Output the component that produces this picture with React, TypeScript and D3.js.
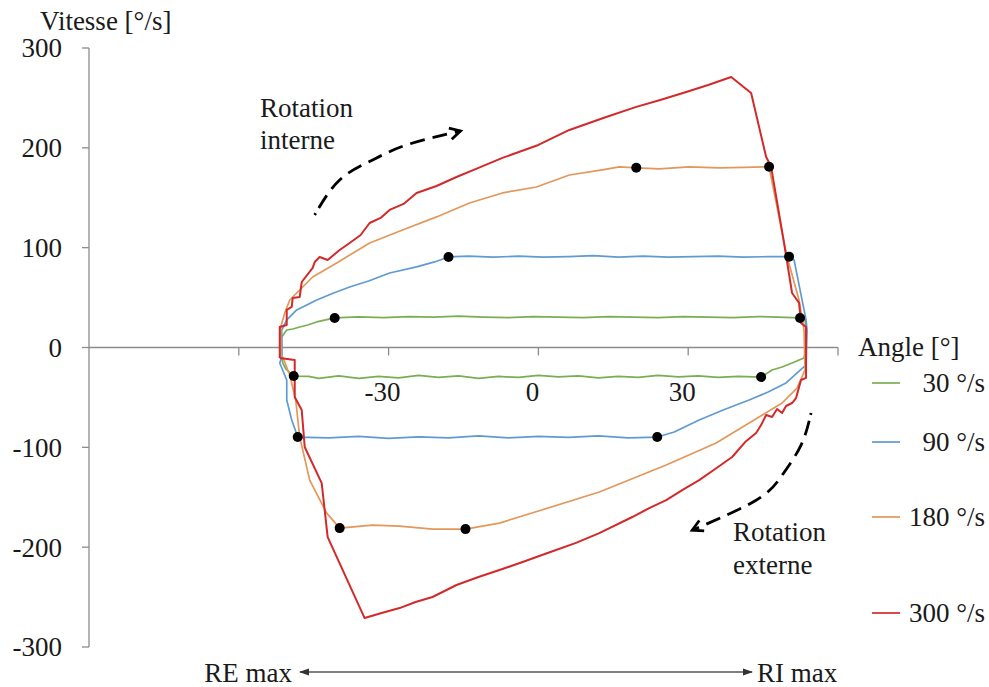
import React from "react";
import * as d3 from "d3";

const series30: [number, number][] = [
  [-51.4, -9.5], [-51.4, 10.5], [-50.4, 17.5], [-49.2, 18.5], [-47.8, 20.5], [-46.2, 22.5], [-44.4, 25.6],
  [-42.6, 27.6], [-40.8, 29.6], [-36, 30.6], [-31, 30], [-26, 31], [-21, 30.5], [-16, 31.5], [-11, 30.5],
  [-6, 30], [-1, 31], [4, 30.5], [9, 30], [14, 31], [19, 30.5], [24, 30], [29, 31], [34, 30.5], [39, 30],
  [44, 31], [48, 30.5], [52.4, 29.6], [53.4, 27.6], [53.6, 17.5], [53.4, -4.5], [53.2, -10.5], [52.2, -12.5],
  [50.8, -15.5], [48.8, -19.5], [46.8, -22.5], [44.6, -29.6], [40, -29], [36, -30], [32, -28.5], [28, -29.5],
  [24, -28], [20, -30], [16, -29], [12, -30.5], [8, -28.5], [4, -29.5], [0, -28], [-4, -30], [-8, -29],
  [-12, -31], [-16, -28.5], [-20, -30], [-24, -28], [-28, -30.5], [-32, -29], [-36, -31], [-40, -28.5],
  [-44, -31], [-46, -29], [-49, -28.6], [-50.6, -21.5], [-51.2, -15.5], [-51.4, -9.5],
];

const series90: [number, number][] = [
  [-51.4, -9.5], [-51.4, 17.5], [-50.4, 27.6], [-48.4, 37.6], [-46.4, 42.6], [-44.4, 47.6], [-41, 54.6],
  [-37.8, 60.6], [-34, 66.6], [-29.8, 74.6], [-24.4, 80.7], [-20.8, 85.7], [-18, 90.7], [-14, 91.5],
  [-9, 90.5], [-4, 91.5], [1, 90.5], [6, 91], [11, 92], [16, 90.5], [21, 91.5], [26, 90.5], [31, 91],
  [36, 91.5], [41, 90.5], [46, 91], [50.2, 91], [51.2, 87.7], [53.6, 27.6], [53.8, 17.5], [53.6, -17.5],
  [49.6, -35.5], [46, -44.6], [42.2, -52.6], [37, -62.6], [32.2, -72.6], [27.2, -84.7], [23.8, -89.7],
  [18, -90.5], [12, -88.5], [6, -90], [0, -89], [-6, -90.5], [-12, -88.5], [-18, -90.5], [-24, -89.5],
  [-30, -91], [-36, -89], [-42, -90.5], [-48.2, -89.7], [-49.4, -72.6], [-50.4, -52.6], [-50.4, -32.6],
  [-51.8, -15.5], [-51.4, -9.5],
];

const series180: [number, number][] = [
  [-51.6, -9.5], [-51.6, 20.5], [-50.8, 34.6], [-49.8, 47.6], [-47.2, 60.6], [-45.2, 70.6], [-40.4, 84.7],
  [-33.8, 104.7], [-27.2, 117.7], [-20.4, 130.8], [-13.8, 144.8], [-7.2, 154.8], [-0.4, 160.8], [6.2, 172.8],
  [12.8, 177.9], [16.2, 180.9], [19.6, 180], [24.2, 179], [30.2, 181], [36.2, 180], [41.2, 180.5],
  [46.2, 181], [49.6, 94.7], [52.2, 47.6], [53.2, 17.5], [53.4, -22.5], [51.8, -40.6], [48.8, -55.6],
  [42.2, -75.7], [35.6, -95.7], [25.6, -117.7], [12.2, -144.8], [0, -163.8], [-7.8, -175.9], [-14.6, -181.9],
  [-21.2, -181.9], [-27.8, -178.9], [-33.2, -177.9], [-39.8, -180.9], [-42.4, -165.9], [-45.8, -132.8],
  [-47.8, -89.7], [-48.6, -52.6], [-49.8, -27.6], [-51.2, -9.5], [-51.6, -9.5],
];

const series300: [number, number][] = [
  [-51.8, -10.5], [-51.8, 20.5], [-50.4, 22.5], [-50.4, 37.6], [-49.4, 40.6], [-49.2, 49.6], [-47.8, 50.6],
  [-47.4, 65.6], [-45.2, 79.7], [-44.8, 85.7], [-43.8, 90.7], [-42.2, 87.7], [-39.8, 97.7], [-37.8, 104.7],
  [-35.6, 112.7], [-33.8, 124.7], [-31.6, 129.8], [-29.8, 137.8], [-27, 143.8], [-24.4, 154.8], [-20.4, 161.8],
  [-16.4, 170.8], [-12, 179.9], [-7.2, 189.9], [0, 202.9], [6.2, 217.9], [13, 229.9], [19.6, 241],
  [24.4, 247.9], [29.6, 256], [34, 262.9], [38.6, 271], [42.6, 255], [45.6, 191], [46.6, 181], [49.2, 104.7],
  [50.8, 54.6], [52.2, 44.6], [52.6, 24.5], [53.6, 20.5], [53.6, -30.5], [52.6, -32.6], [51.6, -50.6],
  [50.8, -55.6], [49.6, -58.6], [48.8, -65.6], [47.8, -61.6], [46.8, -69.6], [45.6, -67.6], [44.6, -77.7],
  [43.6, -85.7], [41.4, -94.7], [38.8, -109.7], [35.4, -121.7], [32.2, -132.8], [28.8, -142.8], [25.6, -152.8],
  [22.2, -160.8], [18.8, -169.8], [12.2, -185.9], [7.4, -195.9], [2.4, -204.9], [-2.6, -213.9], [-7.8, -222.9],
  [-12, -229.9], [-16.4, -237.9], [-21.2, -249.9], [-24.6, -254.9], [-27.8, -261], [-31.4, -265.9],
  [-34.8, -271], [-42.2, -190], [-43.4, -135.8], [-46.8, -99.7], [-47.4, -62.6], [-48.8, -49.6],
  [-48.8, -12.5], [-51.8, -10.5],
];

// black markers: start / end of the constant-velocity part
const dots30: [number, number][] = [[-40.8, 29.6], [52.4, 29.6], [44.6, -29.6], [-49, -28.6]];
const dots90: [number, number][] = [[-18, 90.7], [50.2, 91], [23.8, -89.7], [-48.2, -89.7]];
const dots180: [number, number][] = [[19.6, 180], [46.2, 181], [-14.6, -181.9], [-39.8, -180.9]];

const legendLabels = ["30 °/s", "90 °/s", "180 °/s", "300 °/s"];
const colors = ["#7aae52", "#5f9bd2", "#e3975a", "#d22a2a"];

const yTicks = [-300, -200, -100, 0, 100, 200, 300];
const xTicks = [-60, -30, 0, 30, 60];
const xTickLabels = [-30, 0, 30];

// dashed guide arcs
const arcInterne: [number, number][] = [[-44.8, 132.8], [-39.8, 167.8], [-33.2, 187.9], [-26.4, 202.9], [-15.6, 216.9]];
const arcExterne: [number, number][] = [[54.6, -65.6], [52.6, -97.7], [48.8, -128], [43.6, -153], [30.8, -183]];

const W = 989;
const H = 687;
const font = "'Liberation Serif', 'Times New Roman', serif";

const App = () => {
  const x = d3.scaleLinear().domain([-90, 60]).range([89, 838]);
  const y = d3.scaleLinear().domain([-300, 300]).range([647, 48]);

  const line = d3
    .line<[number, number]>()
    .x((d) => x(d[0]))
    .y((d) => y(d[1]));

  const arc = d3
    .line<[number, number]>()
    .x((d) => x(d[0]))
    .y((d) => y(d[1]))
    .curve(d3.curveNatural);

  const allSeries = [series30, series90, series180, series300];
  const allDots = [dots30, dots90, dots180];
  const legendY = [383, 442, 517, 613];

  const arrowHead = (pts: [number, number][]) => {
    const a = pts[pts.length - 2];
    const b = pts[pts.length - 1];
    const ang = Math.atan2(y(b[1]) - y(a[1]), x(b[0]) - x(a[0]));
    const bx = x(b[0]);
    const by = y(b[1]);
    const l = 12;
    const p1 = [bx - l * Math.cos(ang - 0.5), by - l * Math.sin(ang - 0.5)];
    const p2 = [bx - l * Math.cos(ang + 0.5), by - l * Math.sin(ang + 0.5)];
    return `M${p1[0]},${p1[1]}L${bx},${by}L${p2[0]},${p2[1]}`;
  };

  return (
    <svg
      width={W}
      height={H}
      style={{ position: "absolute", left: 0, top: 0, background: "#fff" }}
      fontFamily={font}
    >
      <defs>
        <marker id="tri" viewBox="0 0 10 10" refX="9" refY="5" markerWidth="7" markerHeight="7" orient="auto-start-reverse">
          <path d="M0,1.5L10,5L0,8.5Z" fill="#333" />
        </marker>
      </defs>

      {/* y axis */}
      <line x1={x(-90)} x2={x(-90)} y1={y(300)} y2={y(-300)} stroke="#8c8c8c" strokeWidth={1.3} />
      {yTicks.map((t) => (
        <g key={t}>
          <line x1={x(-90) - 7} x2={x(-90)} y1={y(t)} y2={y(t)} stroke="#8c8c8c" strokeWidth={1.3} />
          <text x={62} y={y(t)} dy="0.35em" textAnchor="end" fontSize={27} fill="#1a1a1a">
            {t}
          </text>
        </g>
      ))}
      <text x={40} y={30} fontSize={27} fill="#1a1a1a">
        Vitesse [°/s]
      </text>

      {/* x axis */}
      <line x1={x(-90)} x2={x(60)} y1={y(0)} y2={y(0)} stroke="#8c8c8c" strokeWidth={1.3} />
      {xTicks.map((t) => (
        <line key={t} x1={x(t)} x2={x(t)} y1={y(0)} y2={y(0) + 8} stroke="#8c8c8c" strokeWidth={1.3} />
      ))}
      {xTickLabels.map((t) => (
        <text key={t} x={x(t) - 6} y={392} dy="0.35em" textAnchor="middle" fontSize={27} fill="#1a1a1a">
          {t}
        </text>
      ))}
      <text x={858} y={347} dy="0.35em" fontSize={27} fill="#1a1a1a">
        Angle [°]
      </text>

      {/* loops */}
      {allSeries.map((s, i) => (
        <path key={i} d={line(s) ?? ""} fill="none" stroke={colors[i]} strokeWidth={i === 3 ? 2 : 1.7} strokeLinejoin="round" />
      ))}
      {allDots.map((ds, i) =>
        ds.map((d, j) => <circle key={`${i}-${j}`} cx={x(d[0])} cy={y(d[1])} r={5} fill="#000" />)
      )}

      {/* legend */}
      {legendLabels.map((l, i) => (
        <g key={l}>
          <line x1={872} x2={900} y1={legendY[i]} y2={legendY[i]} stroke={colors[i]} strokeWidth={1.7} />
          <text x={985} y={legendY[i]} dy="0.35em" textAnchor="end" fontSize={27} fill="#1a1a1a">
            {l}
          </text>
        </g>
      ))}

      {/* rotation annotations */}
      <path d={arc(arcInterne) ?? ""} fill="none" stroke="#000" strokeWidth={2.8} strokeDasharray="2 6 15 8 15 8 15 8 15 8 15 8 15 8 15 8 15 8 15 8" />
      <path d={arrowHead(arcInterne)} fill="none" stroke="#000" strokeWidth={2.8} />
      <text x={260} y={108} dy="0.35em" fontSize={27} fill="#1a1a1a">Rotation</text>
      <text x={260} y={140} dy="0.35em" fontSize={27} fill="#1a1a1a">interne</text>

      <path d={arc(arcExterne) ?? ""} fill="none" stroke="#000" strokeWidth={2.8} strokeDasharray="2 6 15 8 15 8 15 8 15 8 15 8 15 8 15 8 15 8 15 8" />
      <path d={arrowHead(arcExterne)} fill="none" stroke="#000" strokeWidth={2.8} />
      <text x={733} y={532} dy="0.35em" fontSize={27} fill="#1a1a1a">Rotation</text>
      <text x={733} y={565} dy="0.35em" fontSize={27} fill="#1a1a1a">externe</text>

      {/* range arrow */}
      <text x={292} y={673} dy="0.35em" textAnchor="end" fontSize={27} fill="#1a1a1a">RE max</text>
      <line x1={300} x2={752} y1={672} y2={672} stroke="#555" strokeWidth={1.5} markerStart="url(#tri)" markerEnd="url(#tri)" />
      <text x={757} y={673} dy="0.35em" fontSize={27} fill="#1a1a1a">RI max</text>
    </svg>
  );
};

export default App;
